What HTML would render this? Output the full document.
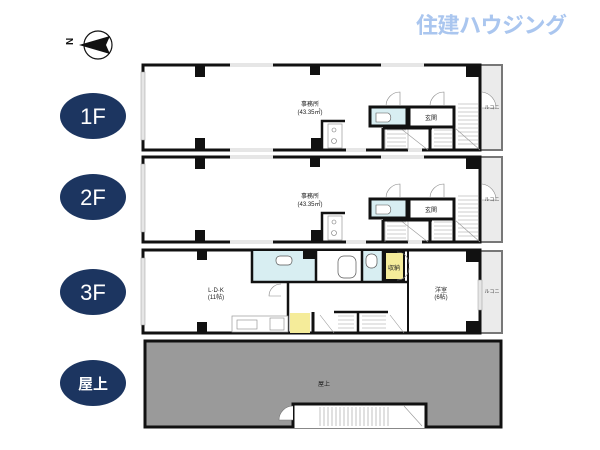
<!DOCTYPE html>
<html><head><meta charset="utf-8"><style>
html,body{margin:0;padding:0;background:#fff;width:600px;height:450px;overflow:hidden}
svg{display:block}
text{font-family:"Liberation Sans","Noto Sans CJK JP",sans-serif}
</style></head><body>
<svg width="600" height="450" viewBox="0 0 600 450" xmlns="http://www.w3.org/2000/svg">
<defs>
<g id="office">
  <!-- balcony -->
  <rect x="480" y="65" width="22" height="85" fill="#ebebeb" stroke="#777" stroke-width="2"/>
  <rect x="143" y="65" width="337" height="85" fill="#fff"/>
  <!-- outer walls -->
  <path d="M143,65 H480 V150 H143 Z" fill="none" stroke="#111" stroke-width="3"/>
  <!-- windows -->
  <rect x="230" y="63" width="43" height="4" fill="#e6e6e6"/>
  <rect x="381" y="63" width="43" height="4" fill="#e6e6e6"/>
  <rect x="230" y="148" width="43" height="4" fill="#e6e6e6"/>
  <rect x="346" y="148" width="20" height="4" fill="#e6e6e6"/>
  <rect x="408" y="148" width="14" height="4" fill="#e6e6e6"/>
  <rect x="141" y="72" width="4" height="68" fill="#e6e6e6" stroke="#999" stroke-width="0.5"/>
  <!-- columns -->
  <rect x="195" y="65" width="10" height="12" fill="#111"/>
  <rect x="310" y="65" width="10" height="10" fill="#111"/>
  <rect x="466" y="65" width="14" height="12" fill="#111"/>
  <rect x="195" y="138" width="10" height="12" fill="#111"/>
  <rect x="311" y="138" width="11" height="12" fill="#111"/>
  <!-- kitchen nook -->
  <path d="M322,150 V121 H345" fill="none" stroke="#111" stroke-width="2.5"/>
  <rect x="328" y="124" width="14" height="24" fill="#fff" stroke="#999" stroke-width="0.7"/>
  <circle cx="334" cy="130" r="2" fill="none" stroke="#777" stroke-width="0.6"/>
  <circle cx="334" cy="141" r="2.5" fill="none" stroke="#777" stroke-width="0.6"/>
  <!-- toilet -->
  <rect x="370" y="107" width="37" height="19" fill="#d8eef2" stroke="#111" stroke-width="3"/>
  <path d="M376,113 H388 A5,5 0 0 1 388,122 H376 Z" fill="#fff" stroke="#555" stroke-width="0.6"/>
  <!-- genkan -->
  <rect x="409" y="107" width="45" height="20" fill="#fff" stroke="#111" stroke-width="3"/>
  <path d="M454,107 V150" stroke="#111" stroke-width="3"/>
  <!-- door arcs -->
  <path d="M386,106 A14,14 0 0 1 400,92 V106" fill="none" stroke="#888" stroke-width="0.6"/>
  <path d="M430,106 A14,14 0 0 1 444,92 V106" fill="none" stroke="#888" stroke-width="0.6"/>
  <path d="M482,92 A16,16 0 0 1 496,108 H482" fill="#fff" stroke="#888" stroke-width="0.6"/>
  <!-- stairs -->
  <g stroke="#999" stroke-width="0.6">
    <path d="M385,127 V150 M408,127 V150 M387,130 H406 M387,134 H406 M387,138 H406 M387,142 H406 M387,146 H406"/>
    <path d="M434,130 H452 M434,134 H452 M434,138 H452 M434,142 H452 M434,146 H452"/>
    <path d="M458,104 H478 M458,108 H478 M458,112 H478 M458,116 H478 M458,120 H478 M458,124 H478 M458,128 H478 M458,132 H478 M458,136 H478 M458,140 H478 M458,144 H478"/>
    <path d="M400,128 L428,150 M455,128 L480,150"/>
  </g>
  <path d="M383,128 H432 M383,128 V150 M430,127 V150" fill="none" stroke="#111" stroke-width="3"/>
  <text x="310" y="106" font-size="6" text-anchor="middle" fill="#222">事務所</text>
  <text x="310" y="114" font-size="6" text-anchor="middle" fill="#222">(43.35㎡)</text>
  <text x="431" y="120" font-size="6" text-anchor="middle" fill="#222">玄関</text>
  <text x="492" y="109" font-size="5" text-anchor="middle" fill="#444">ルコニ</text>
</g>
</defs>

<!-- logo -->
<text x="416" y="33" font-size="22" font-weight="bold" fill="#aac6ef" letter-spacing="-0.5">住建ハウジング</text>

<!-- compass -->
<circle cx="98" cy="45" r="14" fill="#fff" stroke="#111" stroke-width="1.2"/>
<path d="M79,45 L110,36 L106,45 L110,54 Z" fill="#111"/>
<text x="69" y="49" font-size="10" font-weight="bold" fill="#111" transform="rotate(-90 69 45)">N</text>

<!-- ovals -->
<g fill="#1c3560">
<ellipse cx="93" cy="116" rx="33" ry="23"/>
<ellipse cx="93" cy="197" rx="33" ry="23"/>
<ellipse cx="93" cy="292" rx="33" ry="23"/>
<ellipse cx="93" cy="383" rx="33" ry="23"/>
</g>
<g fill="#fff" font-size="22" text-anchor="middle">
<text x="93" y="124">1F</text>
<text x="93" y="205">2F</text>
<text x="93" y="300">3F</text>
<text x="93" y="389" font-size="15" font-weight="bold">屋上</text>
</g>

<use href="#office"/>
<use href="#office" transform="translate(0,92)"/>

<!-- 3F -->
<rect x="480" y="251" width="22" height="82" fill="#ebebeb" stroke="#777" stroke-width="2"/>
<rect x="143" y="250" width="337" height="83" fill="#fff" stroke="#111" stroke-width="3"/>
<rect x="141" y="258" width="4" height="67" fill="#e6e6e6" stroke="#999" stroke-width="0.5"/>
<rect x="478" y="280" width="4" height="30" fill="#e6e6e6" stroke="#999" stroke-width="0.5"/>
<rect x="197" y="250" width="10" height="10" fill="#111"/>
<rect x="197" y="322" width="10" height="11" fill="#111"/>
<rect x="466" y="250" width="14" height="12" fill="#111"/>
<rect x="466" y="321" width="14" height="12" fill="#111"/>
<!-- wet area -->
<rect x="252" y="251" width="64" height="31" fill="#d8eef2"/>
<rect x="316" y="251" width="46" height="31" fill="#fff"/>
<rect x="362" y="251" width="21" height="31" fill="#d8eef2"/>
<path d="M252,250 V282 H408 M316,250 V282 M362,250 V282 M383,250 V282" fill="none" stroke="#111" stroke-width="2.5"/>
<rect x="303" y="250" width="12" height="9" fill="#111"/>
<rect x="338" y="256" width="18" height="22" rx="6" fill="#fff" stroke="#555" stroke-width="0.7"/>
<rect x="276" y="256" width="16" height="9" rx="4" fill="#fff" stroke="#555" stroke-width="0.7"/>
<rect x="366" y="254" width="11" height="14" rx="5" fill="#fff" stroke="#555" stroke-width="0.7"/>
<rect x="385" y="252" width="19" height="28" fill="#f5ec9a" stroke="#111" stroke-width="2"/>
<text x="394" y="270" font-size="6" text-anchor="middle" fill="#222">収納</text>
<path d="M408,250 V333" stroke="#111" stroke-width="2"/>
<!-- lower middle -->
<path d="M288,282 V333" stroke="#111" stroke-width="2.5"/>
<rect x="290" y="313" width="20" height="20" fill="#f5ec9a"/>
<path d="M313,312 V333" stroke="#111" stroke-width="3"/>
<path d="M334,312 H388 M358,312 V333" stroke="#111" stroke-width="2.5"/>
<g stroke="#999" stroke-width="0.6">
<path d="M338,316 H354 M338,320 H354 M338,324 H354 M338,328 H354 M362,316 H386 M362,320 H386 M362,324 H386 M362,328 H386"/>
<path d="M320,315 L334,333 M390,315 L404,333"/>
</g>
<!-- kitchen counter -->
<rect x="232" y="316" width="56" height="16" fill="#fff" stroke="#999" stroke-width="0.7"/>
<rect x="237" y="320" width="20" height="9" fill="none" stroke="#888" stroke-width="0.6"/>
<rect x="270" y="318" width="14" height="12" fill="none" stroke="#888" stroke-width="0.6"/>
<path d="M281,284 A12,12 0 0 0 269,296 H281" fill="none" stroke="#888" stroke-width="0.6"/>
<path d="M397,252 A12,12 0 0 1 409,264 M397,280 A12,12 0 0 0 409,268" fill="none" stroke="#888" stroke-width="0.6"/>
<text x="216" y="292" font-size="6" text-anchor="middle" fill="#222">L·D·K</text>
<text x="216" y="299" font-size="6" text-anchor="middle" fill="#222">(11帖)</text>
<text x="441" y="292" font-size="6" text-anchor="middle" fill="#222">洋室</text>
<text x="441" y="299" font-size="6" text-anchor="middle" fill="#222">(6帖)</text>
<text x="492" y="293" font-size="5" text-anchor="middle" fill="#444">ルコニ</text>

<!-- roof -->
<rect x="145" y="341" width="356" height="86" fill="#9a9a9a" stroke="#111" stroke-width="3"/>
<rect x="293" y="404" width="133" height="24" fill="#fff"/>
<path d="M293,428 V404 H426 V428" fill="none" stroke="#111" stroke-width="3"/>
<g stroke="#999" stroke-width="0.6">
<path d="M320,407 V426 M324,407 V426 M328,407 V426 M332,407 V426 M336,407 V426 M340,407 V426 M344,407 V426 M348,407 V426 M352,407 V426 M356,407 V426 M360,407 V426 M364,407 V426 M368,407 V426 M372,407 V426 M376,407 V426 M380,407 V426 M384,407 V426 M388,407 V426"/>
<path d="M404,406 L422,426"/>
</g>
<path d="M293,406 A14,14 0 0 0 279,420 H293" fill="#fff" stroke="#777" stroke-width="0.6"/>
<text x="324" y="386" font-size="6" text-anchor="middle" fill="#222">屋上</text>
</svg>
</body></html>
